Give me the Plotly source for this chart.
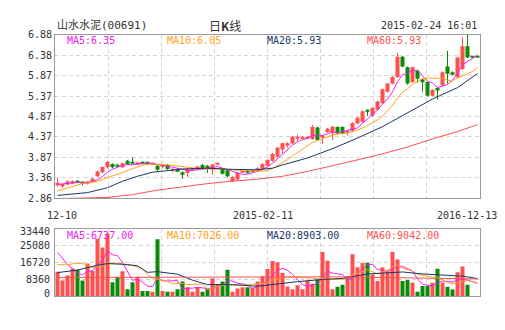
import plotly.graph_objects as go

# ---------------- data ----------------
opens = [3.18, 3.15, 3.20, 3.24, 3.28, 3.26, 3.22, 3.26, 3.40, 3.50,
         3.62, 3.70, 3.67, 3.62, 3.78, 3.75, 3.70, 3.74, 3.73, 3.70,
         3.66, 3.63, 3.68, 3.54, 3.57, 3.50, 3.48, 3.55, 3.58, 3.68,
         3.66, 3.57, 3.69, 3.58, 3.55, 3.27, 3.32, 3.50, 3.52, 3.50,
         3.55, 3.58, 3.66, 3.78, 3.88, 4.06, 4.17, 4.21, 4.33, 4.33,
         4.34, 4.32, 4.60, 4.36, 4.49, 4.46, 4.61, 4.61, 4.48, 4.52,
         4.70, 4.74, 5.03, 4.90, 5.04, 5.20, 5.48, 5.68, 5.84, 6.34,
         6.08, 5.72, 6.00, 5.78, 5.72, 5.38, 5.57, 5.64, 6.10, 5.96,
         5.84, 6.04, 6.60, 6.32, 6.32]
highs = [3.34, 3.22, 3.30, 3.30, 3.30, 3.28, 3.27, 3.36, 3.54, 3.65,
         3.78, 3.72, 3.70, 3.74, 3.80, 3.87, 3.76, 3.76, 3.75, 3.74,
         3.68, 3.70, 3.70, 3.60, 3.59, 3.52, 3.60, 3.60, 3.66, 3.70,
         3.68, 3.71, 3.73, 3.60, 3.57, 3.40, 3.50, 3.53, 3.54, 3.56,
         3.62, 3.72, 3.82, 3.97, 4.12, 4.23, 4.24, 4.39, 4.43, 4.38,
         4.40, 4.66, 4.62, 4.42, 4.59, 4.64, 4.63, 4.63, 4.53, 4.73,
         4.86, 5.02, 5.04, 5.10, 5.26, 5.56, 5.70, 5.86, 6.43, 6.36,
         6.10, 6.10, 6.02, 5.80, 5.74, 5.54, 5.60, 5.98, 6.48, 5.98,
         6.34, 6.82, 6.92, 6.32, 6.32]
lows = [3.14, 3.12, 3.18, 3.22, 3.24, 3.18, 3.20, 3.25, 3.38, 3.48,
        3.60, 3.60, 3.62, 3.60, 3.68, 3.70, 3.68, 3.70, 3.69, 3.68,
        3.52, 3.60, 3.55, 3.50, 3.51, 3.34, 3.38, 3.54, 3.56, 3.56,
        3.48, 3.44, 3.67, 3.44, 3.37, 3.26, 3.30, 3.48, 3.47, 3.49,
        3.53, 3.56, 3.64, 3.76, 3.86, 3.96, 4.10, 4.19, 4.26, 4.31,
        4.32, 4.30, 4.27, 4.20, 4.47, 4.29, 4.43, 4.43, 4.40, 4.50,
        4.68, 4.72, 4.88, 4.86, 5.02, 5.18, 5.46, 5.66, 5.82, 6.08,
        5.65, 5.70, 5.70, 5.48, 5.36, 5.36, 5.28, 5.62, 5.68, 5.88,
        5.82, 6.02, 6.30, 6.32, 6.32]
closes = [3.24, 3.21, 3.27, 3.28, 3.25, 3.22, 3.25, 3.34, 3.52, 3.63,
          3.75, 3.62, 3.64, 3.72, 3.70, 3.72, 3.74, 3.72, 3.71, 3.72,
          3.56, 3.68, 3.58, 3.57, 3.53, 3.46, 3.58, 3.58, 3.64, 3.58,
          3.58, 3.69, 3.70, 3.46, 3.40, 3.38, 3.48, 3.51, 3.49, 3.55,
          3.60, 3.70, 3.80, 3.95, 4.10, 4.21, 4.21, 4.37, 4.36, 4.36,
          4.36, 4.61, 4.29, 4.40, 4.57, 4.62, 4.45, 4.45, 4.51, 4.71,
          4.84, 5.00, 4.99, 5.08, 5.24, 5.54, 5.68, 5.84, 6.34, 6.10,
          5.68, 6.08, 5.80, 5.71, 5.38, 5.52, 5.51, 5.96, 5.92, 5.92,
          6.32, 6.60, 6.32, 6.32, 6.32]
volumes = [12180, 7880, 10270, 13760, 13140, 7880, 16150, 12500, 28420, 24120,
           30810, 6930, 9630, 12340, 3580, 6930, 9630, 2630, 2630, 2310,
           28100, 2630, 2310, 2310, 3580, 7400, 4540, 2310, 4540, 2310,
           3900, 8840, 5810, 7400, 13140, 2310, 3900, 4540, 4540, 4200,
           7300, 9950, 13460, 17440, 16800, 11540, 4870, 3580, 5490, 3580,
           7880, 6290, 8360, 21900, 17600, 3580, 4780, 5730, 9950, 20780,
           14410, 16480, 16620, 10750, 7570, 14250, 12340, 21900, 18230, 7570,
           8040, 6770, 2310, 5170, 5170, 6770, 13620, 6770, 4780, 3340,
           11860, 14730, 5730, 0, 0]

# sessions just before the first visible one (only feed the moving averages)
prior_closes = [2.85, 2.88, 2.90, 2.88, 2.92, 3.12, 3.20, 3.22, 3.21]
prior_volumes = [9000, 10500, 8800, 10200, 9700, 22000, 26000, 23500, 24800]

# longer averages at these session indexes
ma20_at = [0, 6, 10, 13, 16, 19, 22, 25, 30, 35, 40, 43, 45, 50, 55, 60, 65, 70, 75, 80, 84]
ma20_vals = [2.93, 3.00, 3.12, 3.28, 3.40, 3.50, 3.54, 3.58, 3.60, 3.57, 3.56, 3.60,
             3.68, 3.85, 4.08, 4.34, 4.62, 4.95, 5.30, 5.58, 5.93]
ma60_at = [0, 5, 10, 15, 20, 25, 30, 35, 40, 45, 50, 55, 60, 64, 70, 75, 80, 84]
ma60_vals = [2.85, 2.86, 2.88, 2.95, 3.06, 3.14, 3.22, 3.28, 3.33, 3.40, 3.52, 3.66,
             3.80, 3.92, 4.12, 4.32, 4.50, 4.67]
vol_ma20_at = [0, 4, 8, 10, 14, 16, 18, 20, 24, 27, 30, 35, 40, 44, 48, 53, 57, 62, 69, 73, 77, 81, 84]
vol_ma20_vals = [11700, 12980, 15370, 16170, 15690, 15050, 11850, 12180, 10910, 8000,
                 5810, 5810, 5000, 6290, 7250, 8360, 8840, 11060, 12040, 11060,
                 10510, 9950, 8840]
vol_ma60_at = [0, 20, 40, 55, 70, 84]
vol_ma60_vals = [9310, 9310, 9400, 9630, 9150, 8600]

price_tick_labels = ["2.86", "3.36", "3.87", "4.37", "4.87", "5.37", "5.87", "6.38", "6.88"]
vol_tick_labels = ["0", "8360", "16720", "25080", "33440"]
date_labels = ["12-10", "2015-02-11", "2016-12-13"]
header_name = "山水水泥(00691)"
header_mid = "日<b>K</b>线"
header_time = "2015-02-24 16:01"
price_ma_labels = ["MA5:6.35", "MA10:6.05", "MA20:5.93", "MA60:5.93"]
vol_ma_labels = ["MA5:6737.00", "MA10:7026.00", "MA20:8903.00", "MA60:9042.00"]

# ---------------- styling ----------------
W, H = 505, 330
L, R = 55, 480
MAIN_TOP, MAIN_BOT = 30.7, 199.3
VOL_TOP, VOL_BOT = 230.5, 300.5
UP, DOWN = "#ff4f4f", "#0a8c0a"
MA_COLORS = ["#f020f0", "#ffa21a", "#17386a", "#ff5050"]
GRID = "#d4d4d4"
BORDER = "#9a9a9a"
TXT = "#333333"
MONO = "DejaVu Sans Mono"


def moving_avg(values, prior, n):
    full = list(prior) + list(values)
    off = len(prior)
    return [sum(full[off + i - n + 1: off + i + 1]) / n for i in range(len(values))]


n = len(closes)
idx = list(range(n))
up = [c > o for o, c in zip(opens, closes)]
colors = [UP if u else DOWN for u in up]
min_body = 0.025
body_base = [min(o, c) for o, c in zip(opens, closes)]
body_h = [max(abs(c - o), min_body) for o, c in zip(opens, closes)]
wick_h = [h - l for h, l in zip(highs, lows)]

ma5 = moving_avg(closes, prior_closes, 5)
ma10 = moving_avg(closes, prior_closes, 10)
vma5 = moving_avg(volumes, prior_volumes, 5)
vma10 = moving_avg(volumes, prior_volumes, 10)

fig = go.Figure()
# price candles
fig.add_trace(go.Bar(x=idx, y=wick_h, base=lows, width=0.2, marker=dict(color=colors, line=dict(width=0)),
                     xaxis="x", yaxis="y", hoverinfo="skip"))
fig.add_trace(go.Bar(x=idx, y=body_h, base=body_base, width=0.8, marker=dict(color=colors, line=dict(width=0)),
                     xaxis="x", yaxis="y"))
for xs, ys, col in [(idx, ma5, MA_COLORS[0]), (idx, ma10, MA_COLORS[1]),
                    (ma20_at, ma20_vals, MA_COLORS[2]), (ma60_at, ma60_vals, MA_COLORS[3])]:
    fig.add_trace(go.Scatter(x=xs, y=ys, mode="lines", line=dict(color=col, width=1),
                             xaxis="x", yaxis="y", hoverinfo="skip"))
# volume
fig.add_trace(go.Bar(x=idx, y=volumes, width=0.8, marker=dict(color=colors, line=dict(width=0)),
                     xaxis="x2", yaxis="y2"))
for xs, ys, col in [(idx, vma5, MA_COLORS[0]), (idx, vma10, MA_COLORS[1]),
                    (vol_ma20_at, vol_ma20_vals, MA_COLORS[2]), (vol_ma60_at, vol_ma60_vals, MA_COLORS[3])]:
    fig.add_trace(go.Scatter(x=xs, y=ys, mode="lines", line=dict(color=col, width=1),
                             xaxis="x2", yaxis="y2", hoverinfo="skip"))

x_range = [-0.5, n - 0.5]
x_grid = [x_range[0] + k * (x_range[1] - x_range[0]) / 8 for k in range(1, 8)]
p_lo, p_hi = float(price_tick_labels[0]), float(price_tick_labels[-1])
p_ticks = [p_lo + k * (p_hi - p_lo) / (len(price_tick_labels) - 1) for k in range(len(price_tick_labels))]
v_vals = [float(v) for v in vol_tick_labels]

axis_common = dict(showline=True, linecolor=BORDER, linewidth=1, mirror=True, zeroline=False,
                   showgrid=True, gridcolor=GRID, griddash="4px,3px", gridwidth=1, ticks="",
                   fixedrange=True)

fig.update_layout(
    width=W, height=H, margin=dict(l=0, r=0, t=0, b=0),
    paper_bgcolor="white", plot_bgcolor="white", showlegend=False, barmode="overlay",
    xaxis=dict(domain=[L / W, R / W], range=x_range, tickvals=x_grid, showticklabels=False,
               anchor="y", **axis_common),
    xaxis2=dict(domain=[L / W, R / W], range=x_range, tickvals=x_grid, showticklabels=False,
                anchor="y2", matches="x", **axis_common),
    yaxis=dict(domain=[(H - MAIN_BOT) / H, (H - MAIN_TOP) / H], range=[p_lo, p_hi],
               tickvals=p_ticks, ticktext=price_tick_labels,
               tickfont=dict(family=MONO, size=10, color=TXT), anchor="x", **axis_common),
    yaxis2=dict(domain=[(H - VOL_BOT) / H, (H - VOL_TOP) / H], range=[v_vals[0], v_vals[-1]],
                tickvals=v_vals, showticklabels=False, anchor="x2", **axis_common),
)

ann = []


def add_text(text, px, py, color=TXT, anchor="left", size=10, family=MONO):
    ann.append(dict(text=text, x=px / W, y=1 - py / H, xref="paper", yref="paper",
                    xanchor=anchor, yanchor="middle", showarrow=False,
                    font=dict(family=family, size=size, color=color)))


add_text(header_name, L, 21, size=11, family="DejaVu Sans Mono, Noto Sans CJK SC")
add_text(header_mid, 225, 21, anchor="center", size=12, family="Noto Sans CJK SC")
add_text(header_time, 479, 21, anchor="right")
for k, (lab, col) in enumerate(zip(price_ma_labels, MA_COLORS)):
    add_text(lab, 65 + 100 * k, 37, color=col)
for k, (lab, col) in enumerate(zip(vol_ma_labels, MA_COLORS)):
    add_text(lab, 65 + 100 * k, 238, color=col)
add_text(date_labels[0], 45, 217)
add_text(date_labels[1], 263, 217, anchor="center")
add_text(date_labels[2], 499, 217, anchor="right")
# volume axis labels (end labels kept inside the panel)
for lab, v in zip(vol_tick_labels, v_vals):
    shift = 3 if v == v_vals[0] else (-3 if v == v_vals[-1] else 0)
    ann.append(dict(text=lab, x=(L - 3) / W, y=v, xref="paper", yref="y2", yshift=shift,
                    xanchor="right", yanchor="middle", showarrow=False,
                    font=dict(family=MONO, size=10, color=TXT)))
fig.update_layout(annotations=ann)

fig.write_html("out.html")
